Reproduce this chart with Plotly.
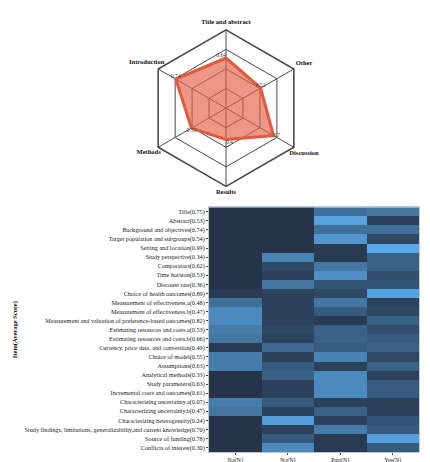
import plotly.graph_objects as go

# ---- Radar data ----
radar_cats = ["Title and abstract", "Other", "Discussion", "Results", "Methods", "Introduction"]
radar_vals = [0.64, 0.51, 0.70, 0.40, 0.51, 0.74]
radar_text = ["0.64", "0.51", "0.7", "0.4", "0.51", "0.74"]

# ---- Heatmap data ----
items = [
    "Title(0.75)", "Abstract(0.53)", "Background and objectives(0.74)",
    "Target population and subgroups(0.54)", "Setting and location(0.99)",
    "Study perspective(0.34)", "Comparators(0.62)", "Time horizon(0.53)",
    "Discount rate(0.36)", "Choice of health outcomes(0.89)",
    "Measurement of effectiveness.a(0.48)", "Measurement of effectiveness.b(0.47)",
    "Measurement and valuation of preference-based outcomes(0.82)",
    "Estimating resources and costs.a(0.53)", "Estimating resources and costs.b(0.66)",
    "Currency, price date, and conversion(0.49)", "Choice of model(0.55)",
    "Assumptions(0.63)", "Analytical methods(0.33)", "Study parameters(0.63)",
    "Incremental costs and outcomes(0.61)", "Characterizing uncertainty.a(0.07)",
    "Characterizing uncertainty.b(0.47)", "Characterizing heterogeneity(0.24)",
    "Study findings, limitations, generalizability,and current knowledge(0.70)",
    "Source of funding(0.78)", "Conflicts of interest(0.30)",
]
score_cols = ["Na(N)", "No(N)", "Part(N)", "Yes(N)"]
na_n   = [0, 0, 0, 0, 0, 0, 0, 0, 0, 1, 9, 13, 13, 11, 10, 1, 11, 11, 0, 0, 0, 11, 10, 0, 0, 0, 0]
no_n   = [0, 0, 0, 0, 0, 12, 3, 2, 10, 2, 2, 2, 2, 3, 2, 8, 2, 6, 7, 2, 2, 6, 2, 16, 2, 6, 13]
part_n = [9, 17, 9, 15, 1, 1, 10, 14, 5, 3, 10, 6, 1, 7, 7, 6, 12, 2, 13, 13, 13, 2, 7, 2, 11, 1, 1]
yes_n  = [10, 2, 9, 3, 18, 7, 7, 4, 5, 17, 2, 3, 7, 4, 6, 7, 3, 7, 2, 6, 6, 2, 2, 5, 6, 16, 6]

z = [[a, b, c, d] for a, b, c, d in zip(na_n, no_n, part_n, yes_n)]

W, H = 430, 462
def px(x): return x / W
def py(y): return 1 - y / H

serif = "Liberation Serif"

# style: radial placement of the category labels (relative to the outer ring = 1)
label_radius = [1.09, 1.15, 1.15, 1.08, 1.14, 1.17]
LBL_SCALE = 1.25   # label layer is a larger, invisible polar sharing the same centre

fig = go.Figure()

# filled radar polygon
fig.add_trace(go.Scatterpolar(
    r=radar_vals + [radar_vals[0]],
    theta=radar_cats + [radar_cats[0]],
    mode="lines",
    fill="toself",
    fillcolor="rgba(228,96,70,0.65)",
    line=dict(color="rgb(225,90,62)", width=3),
    showlegend=False, hoverinfo="skip", subplot="polar",
))
# value labels next to each point
fig.add_trace(go.Scatterpolar(
    r=radar_vals, theta=radar_cats, text=radar_text,
    mode="text",
    textposition=["top left", "top center", "middle right", "bottom right", "bottom center", "top center"],
    textfont=dict(family=serif, size=5.5, color="#444444"),
    showlegend=False, cliponaxis=False, hoverinfo="skip", subplot="polar",
))
# category labels outside the outer ring (on the larger label layer)
fig.add_trace(go.Scatterpolar(
    r=[v / LBL_SCALE for v in label_radius], theta=radar_cats,
    text=["<b>%s</b>" % c for c in radar_cats],
    mode="text",
    textposition="middle center",
    textfont=dict(family=serif, size=6.5, color="#111111"),
    showlegend=False, cliponaxis=False, hoverinfo="skip", subplot="polar2",
))

fig.add_trace(go.Heatmap(
    z=z, x=score_cols, y=items,
    colorscale=[[0, "#263449"], [1, "#5AAAE8"]],
    zmin=0, zmax=18,
    xaxis="x", yaxis="y",
    colorbar=dict(
        title=dict(text="N", side="top", font=dict(family=serif, size=6, color="#333")),
        x=px(417), xanchor="left", y=py(300), yanchor="top",
        len=49, lenmode="pixels", thickness=5, outlinewidth=0,
        tickfont=dict(family=serif, size=3.5, color="#666"),
        ticks="", nticks=5, ypad=0, xpad=0,
    ),
))

cx, cy, r = 218, 101, 79
r2 = r * LBL_SCALE
fig.update_layout(
    width=W, height=H,
    margin=dict(l=0, r=0, t=0, b=0),
    paper_bgcolor="white", plot_bgcolor="white",
    polar=dict(
        domain=dict(x=[px(cx - r), px(cx + r)], y=[py(cy + r), py(cy - r)]),
        gridshape="linear",
        bgcolor="white",
        radialaxis=dict(range=[0, 1], tickvals=[0.25, 0.5, 0.75, 1.0], showticklabels=False,
                        ticks="", showline=False, gridcolor="#4a4a4a", gridwidth=1.3),
        angularaxis=dict(rotation=90, direction="clockwise", gridcolor="#4a4a4a", gridwidth=1.3,
                         linecolor="#4a4a4a", linewidth=1.6, ticks="", showticklabels=False),
    ),
    polar2=dict(
        domain=dict(x=[px(cx - r2), px(cx + r2)], y=[py(cy + r2), py(cy - r2)]),
        bgcolor="rgba(0,0,0,0)",
        radialaxis=dict(range=[0, 1], visible=False),
        angularaxis=dict(rotation=90, direction="clockwise", visible=False,
                         categoryarray=radar_cats, categoryorder="array"),
    ),
    xaxis=dict(domain=[px(201), px(411)], anchor="y", showgrid=False, zeroline=False,
               ticks="outside", ticklen=2, tickcolor="#444",
               showline=True, linecolor="#c4c9cf", linewidth=1, mirror=True,
               tickfont=dict(family=serif, size=6, color="#222"),
               title=dict(text="Score", font=dict(family=serif, size=6.5, color="#111"), standoff=1)),
    yaxis=dict(domain=[py(448), py(201)], anchor="x", autorange="reversed", showgrid=False,
               zeroline=False, ticks="outside", ticklen=2, tickcolor="#444",
               showline=True, linecolor="#c4c9cf", linewidth=1, mirror=True,
               tickfont=dict(family=serif, size=6.2, color="#222"),
               title=dict(text="<b>Item(Average Score)</b>", font=dict(family=serif, size=6.5, color="#111"), standoff=6)),
    font=dict(family=serif),
)

fig.write_html("out.html")
